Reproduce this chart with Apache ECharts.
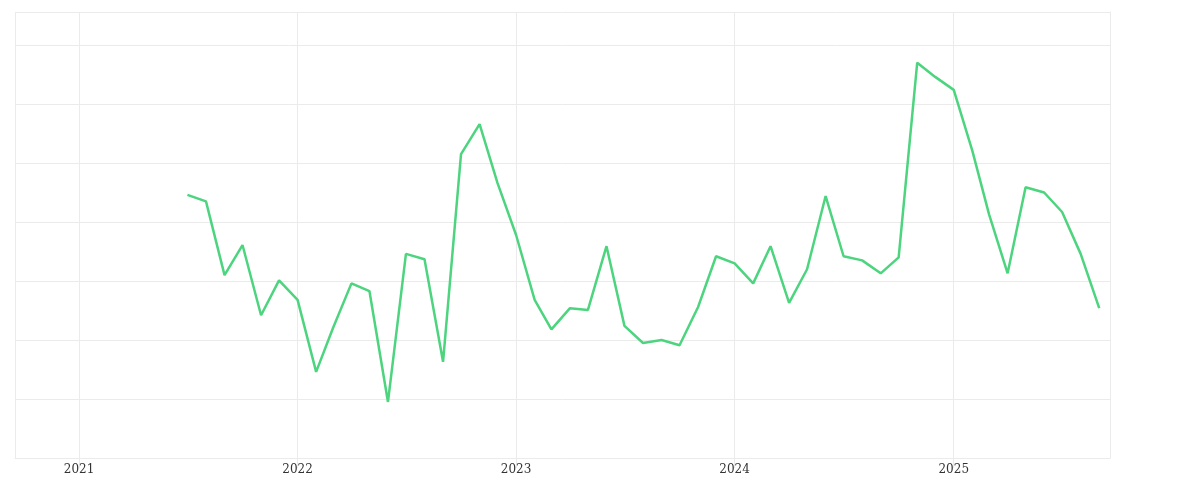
<!DOCTYPE html>
<html>
<head>
<meta charset="utf-8">
<script src="https://cdn.jsdelivr.net/npm/echarts@6/dist/echarts.min.js"></script>
<style>html,body{margin:0;padding:0;background:#fff}#chart{width:1200px;height:500px}</style>
</head>
<body>
<div id="chart"></div>
<script>
var startMonth = '2021-07';
var values = [
    197.5, 196.4, 183.9, 189.0, 177.1, 183.0,
    179.7, 167.5, 174.9, 182.5, 181.2, 162.4, 187.5, 186.6, 169.2, 204.4, 209.5, 199.5,
    190.7, 179.7, 174.7, 178.3, 178.0, 188.8, 175.3, 172.4, 172.9, 172.0, 178.5, 187.1,
    185.9, 182.5, 188.8, 179.2, 184.9, 197.3, 187.1, 186.4, 184.2, 186.9, 219.9, 217.5,
    215.3, 205.0, 194.2, 184.2, 198.8, 197.9, 194.6, 187.5, 178.3
];

function buildData() {
    var y = 2021, m = 7, out = [];
    for (var i = 0; i < values.length; i++) {
        out.push([y + '-' + (m < 10 ? '0' + m : m) + '-01', values[i]]);
        m++;
        if (m > 12) { m = 1; y++; }
    }
    return out;
}

var myChart = echarts.init(document.getElementById('chart'));
var gridColor = '#ebebeb';
var DAY = 24 * 3600 * 1000;
myChart.setOption({
    animation: false,
    textStyle: { fontFamily: 'DejaVu Serif' },
    grid: { left: 15, right: 90, top: 12, bottom: 42, containLabel: false },
    xAxis: {
        type: 'time',
        min: '2020-09-16',
        max: '2025-09-19',
        minInterval: 365 * DAY,
        maxInterval: 366 * DAY,
        axisLine: { lineStyle: { color: gridColor } },
        axisTick: { show: true, length: 10, lineStyle: { color: gridColor } },
        splitLine: { show: true, lineStyle: { color: gridColor } },
        axisLabel: {
            color: '#333', fontSize: 12, margin: 6,
            formatter: function (v) { return String(new Date(v).getFullYear()); }
        }
    },
    yAxis: {
        type: 'value',
        position: 'right',
        min: 152.9,
        max: 228.5,
        interval: 10,
        axisLine: { show: true, lineStyle: { color: gridColor } },
        axisTick: { show: false },
        splitLine: { show: true, lineStyle: { color: gridColor } },
        axisLabel: {
            color: '#333', fontSize: 13, margin: 16,
            showMinLabel: false, showMaxLabel: false,
            formatter: function (v) { return v % 10 === 0 ? String(v) : ''; }
        }
    },
    series: [{
        type: 'line',
        data: buildData(),
        showSymbol: false,
        lineStyle: { color: '#4dd47f', width: 2.5 },
        itemStyle: { color: '#4dd47f' }
    }]
});
</script>
</body>
</html>
